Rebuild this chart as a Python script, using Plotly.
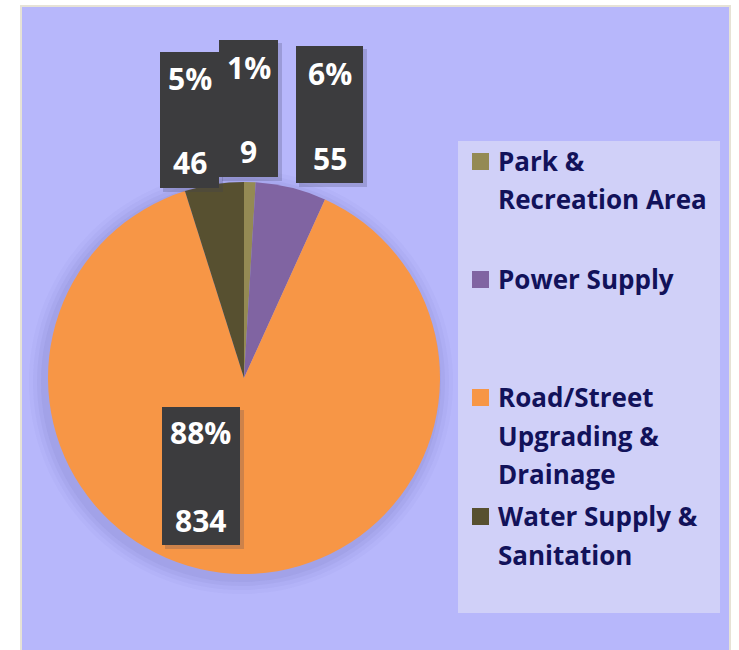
import plotly.graph_objects as go

# ---- data ----
categories = ["Park & Recreation Area", "Power Supply",
              "Road/Street Upgrading & Drainage", "Water Supply & Sanitation"]
values = [9, 55, 834, 46]
legend_lines = [["Park &", "Recreation Area"], ["Power Supply"],
                ["Road/Street", "Upgrading &", "Drainage"],
                ["Water Supply &", "Sanitation"]]
colors = ["#948a54", "#8064a2", "#f79646", "#575030"]

W, H = 739, 650
def px(x): return x / W
def py(y): return 1 - y / H

total = sum(values)
pct = [f"{round(v / total * 100)}%" for v in values]

fig = go.Figure()
fig.add_trace(go.Pie(
    labels=categories, values=values, sort=False, direction="clockwise",
    rotation=0, marker=dict(colors=colors, line=dict(width=0)),
    textinfo="none", hoverinfo="label+value+percent", showlegend=False,
    domain=dict(x=[px(48), px(440)], y=[py(574), py(182)]),
))

shapes = []
annotations = []
# chart background
shapes.append(dict(type="rect", xref="paper", yref="paper", x0=px(20), x1=px(731),
                   y0=py(650), y1=py(5), fillcolor="#e6e2d6", line=dict(width=0), layer="below"))
shapes.append(dict(type="rect", xref="paper", yref="paper", x0=px(22), x1=px(729),
                   y0=py(650), y1=py(7), fillcolor="#b7b7fb", line=dict(width=0), layer="below"))
# soft pie shadow (offset down-left)
for off, op in [(16, 0.035), (12, 0.045), (8, 0.06), (4, 0.07)]:
    shapes.append(dict(type="circle", xref="paper", yref="paper",
                       x0=px(48 - off - 3), x1=px(440 + off - 3), y0=py(574 + off + 4), y1=py(182 - off + 4),
                       fillcolor=f"rgba(80,80,160,{op})", line=dict(width=0), layer="below"))

# legend box
shapes.append(dict(type="rect", xref="paper", yref="paper", x0=px(458), x1=px(720),
                   y0=py(613), y1=py(141), fillcolor="#d0d0f8", line=dict(width=0)))
legend_start = [161, 279, 397, 516]
line_gap = 38.5
for lines, c, y0 in zip(legend_lines, colors, legend_start):
    shapes.append(dict(type="rect", xref="paper", yref="paper", x0=px(472), x1=px(489),
                       y0=py(y0 + 9), y1=py(y0 - 8), fillcolor=c, line=dict(width=0)))
    for j, t in enumerate(lines):
        annotations.append(dict(x=px(496), y=py(y0 + j * line_gap), xref="paper", yref="paper",
                                text=f"<b>{t}</b>", showarrow=False, xanchor="left", yanchor="middle",
                                font=dict(family="Open Sans", size=26, color="#12125a")))

# data labels (box left, top, right, bottom, pct y, value y)
label_boxes = {
    3: (160, 52, 219, 188, 78, 162),
    0: (219, 40, 278, 177, 67, 152),
    1: (296, 46, 363, 183, 73, 158),
    2: (162, 407, 240, 545, 432, 520),
}
for idx in [3, 0, 1, 2]:
    l, t, r, b, yp, yv = label_boxes[idx]
    shapes.append(dict(type="rect", xref="paper", yref="paper", x0=px(l + 3), x1=px(r + 4),
                       y0=py(b + 4), y1=py(t + 3), fillcolor="rgba(60,60,90,0.22)", line=dict(width=0)))
    shapes.append(dict(type="rect", xref="paper", yref="paper", x0=px(l), x1=px(r),
                       y0=py(b), y1=py(t), fillcolor="#3c3c3e", line=dict(width=0)))
    cx = (l + r) / 2
    for txt, yy in [(pct[idx], yp), (str(values[idx]), yv)]:
        annotations.append(dict(x=px(cx), y=py(yy), xref="paper", yref="paper",
                                text=f"<b>{txt}</b>", showarrow=False, xanchor="center", yanchor="middle",
                                font=dict(family="Open Sans", size=30, color="white")))

fig.update_layout(
    width=W, height=H, margin=dict(l=0, r=0, t=0, b=0),
    paper_bgcolor="white", plot_bgcolor="white",
    shapes=shapes, annotations=annotations, showlegend=False,
)
fig.write_html("out.html", config={"displayModeBar": False},
               post_script="document.body.style.margin='0';document.body.style.overflow='hidden';")
